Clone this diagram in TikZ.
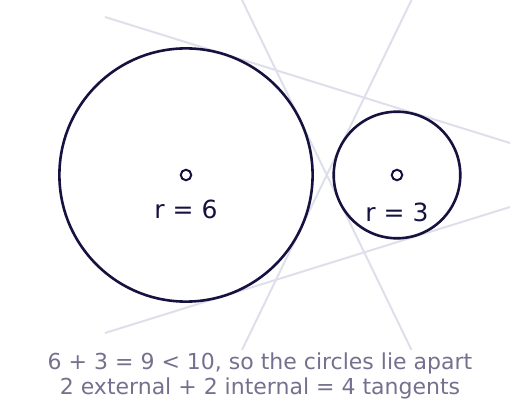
\documentclass[tikz,border=0pt]{standalone}
\usepackage{fontspec}
\setmainfont{DejaVu Sans}
\definecolor{ink}{HTML}{161240}
\definecolor{tanline}{HTML}{DFDFEC}
\definecolor{capt}{HTML}{74718E}
\tikzset{
  circ/.style={circle, draw=ink, line width=2.6pt, inner sep=0pt},
  ctr/.style={circle, draw=ink, line width=2pt, minimum size=10.5pt, inner sep=0pt},
  tline/.style={draw=tanline, line width=2pt},
  rlabel/.style={text=ink, font=\fontsize{25}{30}\selectfont, inner sep=0pt},
  caption/.style={text=capt, font=\fontsize{22}{25}\selectfont, align=center, inner sep=0pt}
}
\begin{document}
\begin{tikzpicture}[x=1pt,y=-1pt]
\useasboundingbox (0,0) rectangle (520,409);
% tangent line end points
\coordinate (e1a) at (105,17);
\coordinate (e1b) at (510,143);
\coordinate (e2a) at (105,333);
\coordinate (e2b) at (510,207);
\coordinate (i1a) at (242,0);
\coordinate (i1b) at (411.5,350);
\coordinate (i2a) at (411.5,0);
\coordinate (i2b) at (242,350);
\draw[tline] (e1a) -- (e1b);
\draw[tline] (e2a) -- (e2b);
\draw[tline] (i1a) -- (i1b);
\draw[tline] (i2a) -- (i2b);
% circles
\node[circ, minimum size=253.2pt] (big) at (186,175) {};
\node[circ, minimum size=126.6pt] (small) at (397,175) {};
\node[ctr] (c1) at (186,175) {};
\node[ctr] (c2) at (397,175) {};
\node[rlabel] (r1) at (186,209) {r = 6};
\node[rlabel] (r2) at (397,212) {r = 3};
\node[caption] (cap) at (260,376) {6 + 3 = 9 < 10, so the circles lie apart\\2 external + 2 internal = 4 tangents};
\end{tikzpicture}
\end{document}
